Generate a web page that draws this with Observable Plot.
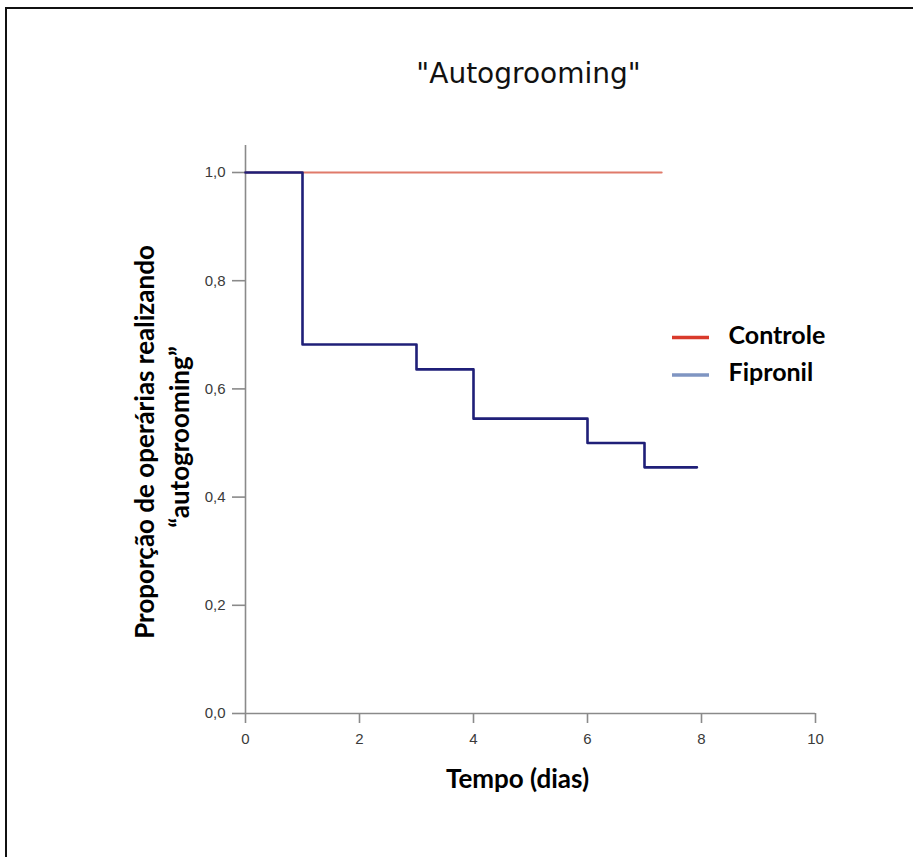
<!DOCTYPE html>
<html>
<head>
<meta charset="utf-8">
<script src="https://cdn.jsdelivr.net/npm/d3@7"></script>
<script src="https://cdn.jsdelivr.net/npm/@observablehq/plot@0.6"></script>
<style>
  body { margin: 0; background: #fff; overflow: hidden; }
  #wrap { position: relative; width: 913px; height: 857px; background: #fff; }
  #border { position: absolute; left: 5px; top: 7px; width: 1000px; height: 1000px;
            border-left: 2px solid #111; border-top: 2px solid #111; pointer-events: none; }
  #chart { position: absolute; left: 0; top: 0; }
</style>
</head>
<body>
<div id="wrap">
  <div id="chart"></div>
  <div id="border"></div>
</div>
<script>
// ---- data ----
const titleText = "\"Autogrooming\"";
const xLabel = "Tempo (dias)";
const yLabelLine1 = "Proporção de operárias realizando";
const yLabelLine2 = "“autogrooming”";
const seriesNames = ["Controle", "Fipronil"];
const seriesColors = ["#e07a6a", "#1f1f78"];
const legendColors = ["#d93a2b", "#7f95c2"];

const controleTime = [0, 7.3];
const controleProp = [1, 1];
const fipronilTime = [0, 1, 3, 4, 6, 7, 7.92];
const fipronilProp = [1, 0.682, 0.636, 0.545, 0.5, 0.455, 0.455];

const xTicks = [0, 2, 4, 6, 8, 10];
const yTicks = [0, 0.2, 0.4, 0.6, 0.8, 1.0];

const controle = controleTime.map((t, i) => ({t, p: controleProp[i]}));
const fipronil = fipronilTime.map((t, i) => ({t, p: fipronilProp[i]}));

const fmtY = v => d3.format(".1f")(v).replace(".", ",");

const labelFont = "Lato, 'Open Sans', sans-serif";
const tickFont = "'Liberation Sans', Arial, sans-serif";

const chart = Plot.plot({
  width: 913,
  height: 857,
  marginLeft: 245,
  marginRight: 98,
  marginTop: 172,
  marginBottom: 144,
  style: { background: "transparent", overflow: "visible" },
  x: { domain: [0, 10] },
  y: { domain: [0, 1] },
  marks: [
    // axis lines
    Plot.ruleX([0], { y1: 0, y2: 1.05, stroke: "#8a8a8a", strokeWidth: 1.6 }),
    Plot.ruleY([0], { stroke: "#8a8a8a", strokeWidth: 1.6 }),
    // tick marks
    Plot.axisX({
      ticks: xTicks, tickSize: 10, tickFormat: () => "", label: null,
      stroke: "#8a8a8a", strokeWidth: 1.6
    }),
    Plot.axisY({
      ticks: yTicks, tickSize: 13, tickFormat: () => "", label: null,
      stroke: "#8a8a8a", strokeWidth: 1.6
    }),
    // tick labels
    Plot.text(xTicks, {
      x: d => d, frameAnchor: "bottom", dy: 20, lineAnchor: "top", text: d => String(d),
      fontSize: 15, fontFamily: tickFont, fill: "#3a3a3a"
    }),
    Plot.text(yTicks, {
      y: d => d, frameAnchor: "left", dx: -20, textAnchor: "end", lineAnchor: "middle", text: fmtY,
      fontSize: 15, fontFamily: tickFont, fill: "#3a3a3a"
    }),
    // series
    Plot.line(controle, { x: "t", y: "p", stroke: seriesColors[0], strokeWidth: 2.2 }),
    Plot.line(fipronil, { x: "t", y: "p", curve: "step-after", stroke: seriesColors[1], strokeWidth: 2.6 }),
    // title
    Plot.text([titleText], {
      frameAnchor: "top", dx: -2, dy: -90, lineAnchor: "bottom",
      fontSize: 28, fontFamily: "'DejaVu Sans', Verdana, sans-serif", fill: "#111"
    }),
    // x label
    Plot.text([xLabel], {
      frameAnchor: "bottom", dx: -13, dy: 74, lineAnchor: "bottom",
      fontSize: 26, fontWeight: "bold", fontFamily: labelFont, fill: "#000"
    }),
    // y label
    Plot.text([yLabelLine1], {
      frameAnchor: "left", dx: -92, dy: -1, rotate: -90, lineAnchor: "bottom", textAnchor: "middle",
      fontSize: 26, fontWeight: "bold", fontFamily: labelFont, fill: "#000"
    }),
    Plot.text([yLabelLine2], {
      frameAnchor: "left", dx: -57, dy: -6, rotate: -90, lineAnchor: "bottom", textAnchor: "middle",
      fontSize: 26, fontWeight: "bold", fontFamily: labelFont, fill: "#000"
    }),
    // legend labels
    Plot.text([seriesNames[0]], {
      frameAnchor: "top-left", dx: 483, dy: 171, lineAnchor: "bottom", textAnchor: "start",
      fontSize: 25, fontWeight: "bold", fontFamily: labelFont, fill: "#000"
    }),
    Plot.text([seriesNames[1]], {
      frameAnchor: "top-left", dx: 483, dy: 208, lineAnchor: "bottom", textAnchor: "start",
      fontSize: 25, fontWeight: "bold", fontFamily: labelFont, fill: "#000"
    })
  ]
});

document.getElementById("chart").appendChild(chart);

// legend swatches
const svg = d3.select(chart);
const swatchY = [337.5, 375];
swatchY.forEach((y, i) => {
  svg.append("line")
    .attr("x1", 672).attr("x2", 709)
    .attr("y1", y).attr("y2", y)
    .attr("stroke", legendColors[i])
    .attr("stroke-width", 3.5);
});
</script>
</body>
</html>
